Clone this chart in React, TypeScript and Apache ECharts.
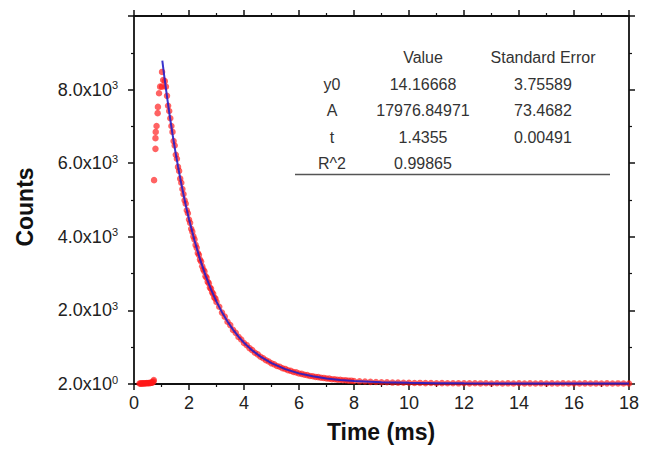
import React, { useEffect, useRef } from 'react';
import * as echarts from 'echarts';

// ---- data ----
const risePoints: number[][] = [
  [0.2, 12], [0.23, 15], [0.26, 10], [0.29, 18], [0.32, 14], [0.35, 20], [0.38, 16], [0.41, 22],
  [0.44, 19], [0.47, 25], [0.5, 21], [0.53, 28], [0.56, 24], [0.59, 30], [0.62, 33], [0.65, 38],
  [0.68, 45], [0.71, 70], [0.72, 110], [0.73, 5540], [0.78, 6390], [0.78, 6680], [0.79, 6850],
  [0.82, 7010], [0.86, 7360], [0.87, 7530], [0.91, 7900], [0.95, 8080], [1.02, 8080], [1.02, 8480],
  [1.06, 8260],
];

const decayEarly: number[][] = [
  [1.12, 8230], [1.16, 8080], [1.2, 7830], [1.24, 7560], [1.28, 7420], [1.32, 7220], [1.36, 7010],
  [1.4, 6850], [1.44, 6600], [1.48, 6480], [1.52, 6230], [1.56, 6120], [1.6, 5900], [1.64, 5790],
  [1.68, 5580], [1.72, 5470], [1.76, 5300], [1.8, 5160], [1.84, 4990], [1.88, 4900], [1.92, 4720],
  [1.96, 4640], [2, 4470], [2.04, 4380], [2.08, 4220], [2.12, 4140], [2.16, 4010], [2.2, 3930],
  [2.24, 3780], [2.28, 3700], [2.32, 3560], [2.36, 3510], [2.4, 3380], [2.44, 3330], [2.48, 3200],
  [2.52, 3110], [2.56, 3060], [2.6, 2930], [2.64, 2890], [2.68, 2780], [2.72, 2740], [2.76, 2620],
  [2.8, 2590], [2.84, 2490], [2.88, 2450], [2.92, 2350], [2.96, 2320], [3, 2230],
];

const decayMid: number[][] = [
  [3.1, 2100], [3.2, 1940], [3.3, 1830], [3.4, 1690], [3.5, 1600], [3.6, 1470], [3.7, 1390],
  [3.8, 1280], [3.9, 1210], [4, 1115], [4.1, 1055], [4.2, 975], [4.3, 920], [4.4, 848], [4.5, 805],
  [4.6, 740], [4.7, 700], [4.8, 645], [4.9, 612], [5, 562], [5.1, 535], [5.2, 490], [5.3, 468],
  [5.4, 428], [5.5, 410], [5.6, 375], [5.7, 358], [5.8, 327], [5.9, 315], [6, 286], [6.1, 276],
  [6.2, 250], [6.3, 242], [6.4, 219], [6.5, 212], [6.6, 192], [6.7, 187], [6.8, 169], [6.9, 165],
  [7, 148], [7.1, 146], [7.2, 130], [7.3, 129], [7.4, 115], [7.5, 114], [7.6, 101], [7.7, 101],
  [7.8, 90], [7.9, 90], [8, 80],
];

const decayTail: number[][] = [
  [8.2, 73], [8.4, 68], [8.6, 58], [8.8, 55], [9, 47], [9.2, 46], [9.4, 39], [9.6, 38], [9.8, 33],
  [10, 33], [10.2, 28], [10.4, 29], [10.6, 24], [10.8, 26], [11, 21], [11.2, 23], [11.4, 19],
  [11.6, 22], [11.8, 18], [12, 21], [12.2, 17], [12.4, 20], [12.6, 16], [12.8, 19], [13, 15],
  [13.2, 19], [13.4, 14], [13.6, 18], [13.8, 15], [14, 19], [14.2, 14], [14.4, 17], [14.6, 13],
  [14.8, 18], [15, 14], [15.2, 17], [15.4, 13], [15.6, 18], [15.8, 14], [16, 16], [16.2, 13],
  [16.4, 17], [16.6, 14], [16.8, 16], [17, 13], [17.2, 17], [17.4, 14], [17.6, 16], [17.8, 13],
  [18, 15],
];

const fitPoints: number[][] = [
  [1.03, 8786], [1.1, 8369], [1.2, 7807], [1.3, 7282], [1.4, 6793], [1.5, 6337], [1.6, 5912],
  [1.7, 5515], [1.8, 5145], [1.9, 4799], [2, 4477], [2.2, 3897], [2.4, 3392], [2.6, 2952],
  [2.8, 2570], [3, 2238], [3.2, 1949], [3.4, 1697], [3.6, 1478], [3.8, 1288], [4, 1122],
  [4.3, 913], [4.6, 744], [5, 566], [5.5, 404], [6, 289], [6.5, 208], [7, 151], [7.5, 111],
  [8, 82], [9, 48], [10, 31], [11, 22], [12, 18], [14, 15], [16, 14], [18, 14],
];

const tableHeader = ['Value', 'Standard Error'];
const paramNames = ['y0', 'A', 't', 'R^2'];
const paramValues = ['14.16668', '17976.84971', '1.4355', '0.99865'];
const paramErrors = ['3.75589', '73.4682', '0.00491', ''];

const FONT = '"Liberation Sans", Arial, Helvetica, sans-serif';

export default function App() {
  const ref = useRef<HTMLDivElement>(null);

  useEffect(() => {
    document.body.style.margin = '0';
    const chart = echarts.init(ref.current!, null, { renderer: 'svg' });

    const axisLineStyle = { color: '#111', width: 1.8 };
    const tickStyle = { color: '#111', width: 1.5 };

    const yFormatter = (v: number) => {
      if (v >= 10000) return '';
      if (v === 0) return '{b|2.0x10}{s|0}';
      return '{b|' + (v / 1000).toFixed(1) + 'x10}{s|3}';
    };

    const colX = [332, 423, 543];
    const rowY = [84, 110, 137, 163];
    const graphics: any[] = [];
    tableHeader.forEach((h, i) => {
      graphics.push({
        type: 'text', x: colX[i + 1], y: 57,
        style: { text: h, fill: '#333', font: `16px ${FONT}`, align: 'center', verticalAlign: 'middle' },
      });
    });
    paramNames.forEach((n, r) => {
      [n, paramValues[r], paramErrors[r]].forEach((t, c) => {
        if (!t) return;
        graphics.push({
          type: 'text', x: colX[c], y: rowY[r],
          style: { text: t, fill: '#333', font: `16px ${FONT}`, align: 'center', verticalAlign: 'middle' },
        });
      });
    });
    graphics.push({
      type: 'line', shape: { x1: 295, y1: 174.5, x2: 610, y2: 174.5 },
      style: { stroke: '#555', lineWidth: 1.5 },
    });
    graphics.push({
      type: 'text', x: 381, y: 432,
      style: { text: 'Time (ms)', fill: '#111', font: `bold 23px ${FONT}`, align: 'center', verticalAlign: 'middle' },
    });
    graphics.push({
      type: 'text', x: 25, y: 207, rotation: Math.PI / 2,
      style: { text: 'Counts', fill: '#111', font: `bold 23px ${FONT}`, align: 'center', verticalAlign: 'middle' },
    });

    const xBase = {
      type: 'value', min: 0, max: 18, interval: 2,
      axisLine: { show: true, onZero: false, lineStyle: axisLineStyle },
      axisTick: { show: true, length: 6, lineStyle: tickStyle },
      minorTick: { show: true, splitNumber: 2, length: 3, lineStyle: { color: '#111', width: 1.2 } },
      splitLine: { show: false },
      minorSplitLine: { show: false },
    };
    const yBase = {
      type: 'value', min: 0, max: 10000, interval: 2000,
      axisLine: { show: true, onZero: false, lineStyle: axisLineStyle },
      axisTick: { show: true, length: 6, lineStyle: tickStyle },
      minorTick: { show: true, splitNumber: 2, length: 3, lineStyle: { color: '#111', width: 1.2 } },
      splitLine: { show: false },
      minorSplitLine: { show: false },
    };

    const option: any = {
      animation: false,
      backgroundColor: '#fff',
      grid: { left: 134, right: 22, top: 16, bottom: 65, containLabel: false },
      xAxis: [
        {
          ...xBase, position: 'bottom',
          axisLabel: { show: true, fontSize: 18, color: '#222', fontFamily: FONT, margin: 10 },
        },
        {
          ...xBase, position: 'top',
          axisLabel: { show: false },
        },
      ],
      yAxis: [
        {
          ...yBase, position: 'left',
          axisLabel: {
            show: true, margin: 16, formatter: yFormatter,
            rich: {
              b: { fontSize: 18, color: '#222', fontFamily: FONT, lineHeight: 20 },
              s: { fontSize: 11, color: '#222', fontFamily: FONT, lineHeight: 13, verticalAlign: 'top' },
            },
          },
        },
        {
          ...yBase, position: 'right',
          axisLabel: { show: false },
        },
      ],
      graphic: graphics,
      series: [
        {
          type: 'scatter', name: 'data', xAxisIndex: 0, yAxisIndex: 0,
          data: [...risePoints, ...decayEarly, ...decayMid, ...decayTail],
          symbol: 'circle', symbolSize: 6.5,
          itemStyle: { color: 'rgba(255,25,25,0.85)' },
          z: 2,
        },
        {
          type: 'line', name: 'fit', xAxisIndex: 0, yAxisIndex: 0,
          data: fitPoints,
          showSymbol: false, symbol: 'none',
          lineStyle: { color: 'rgba(35,30,200,0.9)', width: 2 },
          z: 3,
        },
      ],
    };

    chart.setOption(option);
    return () => chart.dispose();
  }, []);

  return <div ref={ref} style={{ width: 651, height: 449, background: '#fff' }} />;
}
